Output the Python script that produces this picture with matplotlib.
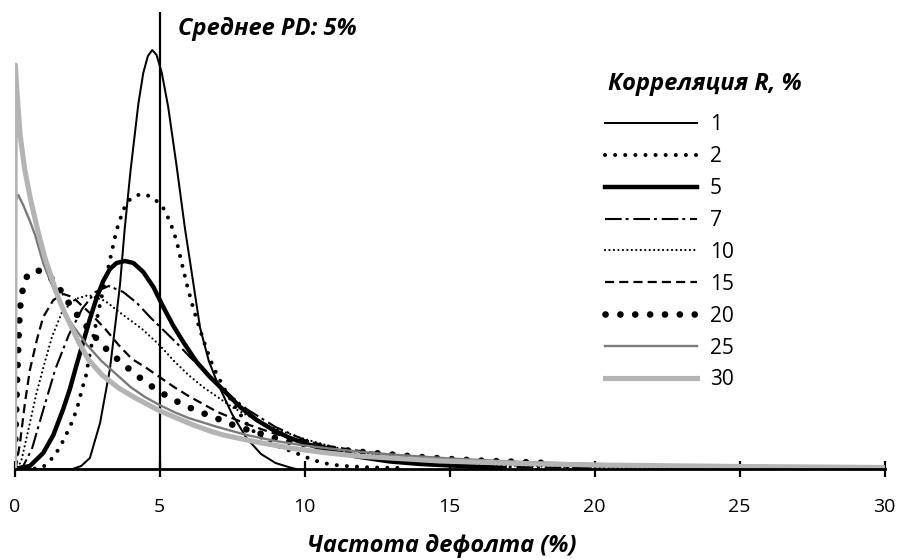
import matplotlib
matplotlib.use("Agg")
import matplotlib.pyplot as plt

plt.rcParams['font.family'] = ['Open Sans', 'DejaVu Sans']

# ---------------- data ----------------
mean_pd = 5
x_ticks = [0, 5, 10, 15, 20, 25, 30]
correlations = [1, 2, 5, 7, 10, 15, 20, 25, 30]

# default rate (%) and density (arbitrary units) for each correlation R
x_r1 = [0, 2.0, 2.3, 2.6, 2.95, 3.29, 3.5, 3.64, 3.8, 4.0, 4.27, 4.44, 4.6, 4.75, 4.9, 5.08, 5.3, 5.59, 5.88,
        6.05, 6.4, 6.7, 7.0, 7.5, 8.0, 8.5, 9.0, 9.5, 9.7]
y_r1 = [0, 0, 3, 11, 46, 100, 150, 185, 240, 298, 365, 396, 413, 419, 414, 396, 362, 303, 240,
        208, 141, 108, 86, 55, 31, 15, 6, 1.5, 0]

x_r2 = [0, 0.6, 0.99, 1.34, 1.57, 1.74, 1.91, 2.05, 2.17, 2.26, 2.37, 2.47, 2.6, 2.95, 3.29, 3.52, 3.75, 3.92,
        4.15, 4.39, 4.65, 4.9, 5.13, 5.3, 5.44, 5.59, 5.75, 5.94, 6.17, 6.4, 6.63, 6.8, 6.97, 7.26, 7.61, 8.06,
        8.41, 8.98, 9.61, 9.96, 10.3, 10.65, 11.05, 11.4, 12.3, 13.3]
y_r2 = [0, 0, 2, 12, 22, 32, 42, 52, 62, 72, 84, 94, 116, 165, 209, 239, 259, 268,
        273, 275, 273, 268, 261, 251, 241, 228, 208, 185, 160, 139, 119, 106, 95, 79, 62, 43,
        33, 24, 17, 13, 9, 6, 4, 3, 1.5, 1]

x_r5 = [0, 0.53, 0.99, 1.34, 1.68, 1.91, 2.14, 2.37, 2.6, 2.83, 3.06, 3.29, 3.52, 3.81, 4.1, 4.44, 4.79, 5.13,
        5.48, 5.82, 6.05, 6.28, 6.74, 7.2, 7.78, 8.35, 8.92, 9.5, 10.08, 10.65, 11.22, 11.8, 12.37, 12.95,
        14.0, 15.4, 16.9]
y_r5 = [0, 3, 16, 34, 60, 80, 104, 127, 150, 171, 188, 200, 206, 208, 206, 197, 182, 162,
        143, 127, 117, 107, 92, 79, 62, 49, 39, 31, 25, 20, 16, 12.5, 10, 7.5,
        5, 3, 1]

x_r7 = [0, 0.3, 0.6, 1.0, 1.41, 1.87, 2.33, 2.79, 3.25, 3.75, 4.22, 4.67, 5.13, 5.59, 6.05, 6.51, 7.0, 7.5,
        8.0, 9.0, 10.0, 11.0, 12.0, 13.0, 14.0, 15.0, 17.0, 20.0]
y_r7 = [0, 3, 20, 60, 100, 134, 160, 177, 183, 177, 166, 152, 139, 126, 112, 99, 85, 72,
        60, 42, 29, 20, 13, 9, 6, 4, 2, 1]

x_r10 = [0, 0.1, 0.25, 0.5, 0.75, 1.0, 1.29, 1.64, 2.1, 2.56, 3.13, 3.7, 4.4, 5.0, 5.5, 6.0, 6.5, 7.0, 7.5,
         8.0, 9.0, 10.0, 11.0, 12.0, 13.0, 14.0, 15.0, 17.0, 20.0, 25.0]
y_r10 = [0, 0, 10, 42, 75, 102, 132, 157, 170, 174, 168, 155, 140, 124, 108, 94, 82, 72, 62,
         54, 40, 30, 22, 16, 12, 9, 6.5, 3.5, 1.3, 0.3]

x_r15 = [0, 0.05, 0.19, 0.36, 0.53, 0.77, 0.99, 1.34, 1.68, 2.0, 2.3, 2.67, 3.13, 3.59, 4.05, 4.5, 5.0, 5.5,
         6.0, 6.5, 7.0, 8.0, 9.0, 10.0, 11.0, 12.0, 13.0, 14.0, 15.0, 17.5, 20.0, 25.0, 30.0]
y_r15 = [0, 2, 26, 66, 99, 129, 152, 169, 175, 172, 164, 154, 140, 124, 110, 102, 92, 82,
         73, 65, 57, 45, 35, 28, 22, 17.6, 14, 11, 9, 5, 2.9, 1, 0.3]

x_r20 = [0, 0.03, 0.06, 0.10, 0.14, 0.17, 0.20, 0.26, 0.37, 0.55, 0.78, 1.0, 1.23, 1.58, 1.87, 2.21, 2.56,
         2.9, 3.3, 3.71, 4.11, 4.56, 5.02, 5.5, 5.99, 6.49, 7.03, 7.54, 8.06, 8.64, 9.1, 9.67, 10.2, 11.0,
         12.0, 13.0, 14.0, 15.0, 16.0, 17.0, 18.4]
y_r20 = [0, 30, 60, 97, 130, 150, 163, 176, 190, 197, 199, 196, 192, 179, 166, 152, 140,
         128, 116, 106, 96, 86, 77, 69, 62, 56, 50, 44, 39, 34, 30, 26, 24, 20,
         17, 14.5, 12, 10, 8.5, 7.5, 6]

x_r25 = [0, 0.02, 0.13, 0.3, 0.53, 0.71, 1.0, 1.25, 1.5, 1.75, 2.0, 2.5, 3.0, 3.5, 4.0, 4.5, 5.0, 5.5, 6.0,
         7.0, 8.0, 9.0, 10.0, 11.0, 12.0, 13.0, 15.0, 17.5, 20.0, 25.0, 30.0]
y_r25 = [0, 268, 274, 264, 248, 234, 205, 187, 170, 155, 144, 124, 108, 95, 82, 72, 64, 57, 51,
         42, 34, 28, 23.5, 20, 17, 14.5, 10.5, 7, 5, 2.4, 1.2]

x_r30 = [0, 0.03, 0.08, 0.19, 0.35, 0.55, 0.79, 1.04, 1.27, 1.5, 1.73, 2.0, 2.21, 2.56, 3.02, 3.59, 4.17,
         5.02, 5.59, 6.17, 6.74, 7.2, 8.35, 9.5, 10.65, 11.8, 12.95, 14.67, 17.5, 20.0, 25.0, 30.0]
y_r30 = [0, 404, 379, 335, 300, 270, 240, 212, 192, 172, 156, 140, 127, 109, 94, 81, 71,
         58, 51, 44, 38, 34, 27, 21, 16.5, 13, 11, 8, 5.5, 4, 2.5, 1.5]

series_x = [x_r1, x_r2, x_r5, x_r7, x_r10, x_r15, x_r20, x_r25, x_r30]
series_y = [y_r1, y_r2, y_r5, y_r7, y_r10, y_r15, y_r20, y_r25, y_r30]

# ---------------- styles ----------------
styles = [
    dict(color='black', lw=1.45, ls='-'),
    dict(color='black', lw=2.9, ls=(0, (0.01, 2.5)), dash_capstyle='round'),
    dict(color='black', lw=3.2, ls='-'),
    dict(color='black', lw=1.5, ls=(0, (8, 1.9, 1.4, 2.3))),
    dict(color='black', lw=1.6, ls=(0, (0.01, 2.0)), dash_capstyle='round'),
    dict(color='black', lw=1.6, ls=(0, (4.1, 2.3))),
    dict(color='black', lw=4.8, ls=(0, (0.01, 2.22)), dash_capstyle='round'),
    dict(color='#7a7a7a', lw=1.7, ls='-'),
    dict(color='#b4b4b4', lw=3.7, ls='-'),
]

W, H = 898, 560
fig = plt.figure(figsize=(W / 100, H / 100), dpi=100)
ax = fig.add_axes([14.5 / W, 91 / H, 870 / W, 457 / H])

handles = []
for xs, ys, st, r in zip(series_x, series_y, styles, correlations):
    ln, = ax.plot(xs, ys, label=str(r), solid_joinstyle='round', **st)
    handles.append(ln)

ax.axvline(mean_pd, 0, 1, color='black', lw=1.6, zorder=1)

ax.set_xlim(0, 30)
ax.set_ylim(0, 457)
for s in ['top', 'right', 'left']:
    ax.spines[s].set_visible(False)
ax.spines['bottom'].set_linewidth(2.0)
ax.set_yticks([])
ax.set_xticks(x_ticks)
ax.set_xticklabels([str(t) for t in x_ticks], fontsize=14)
ax.tick_params(axis='x', direction='inout', length=12, width=1.6, pad=15)

ax.set_xlabel('Частота дефолта (%)', fontsize=17, fontweight='bold', fontstyle='italic')
ax.xaxis.set_label_coords((442 - 14.5) / 870, -(546 - 469) / 457)
ax.xaxis.label.set_va('center')

ax.text((178 - 14.5) / 870, (469 - 29) / 457, f'Среднее PD: {mean_pd}%', transform=ax.transAxes,
        fontsize=17, fontweight='bold', fontstyle='italic', ha='left', va='center')

# legend title and legend entries
fig.text(608 / W, 1 - 84 / H, 'Корреляция R, %', fontsize=17, fontweight='bold',
         fontstyle='italic', ha='left', va='center')
leg = ax.legend(handles=handles, loc='upper left', bbox_to_anchor=(605 / W, 1 - 114 / H),
                bbox_transform=fig.transFigure, frameon=False, fontsize=15,
                handlelength=4.4, handletextpad=0.63, labelspacing=0.525,
                borderpad=0, borderaxespad=0)

fig.savefig('out.png', dpi=100)
